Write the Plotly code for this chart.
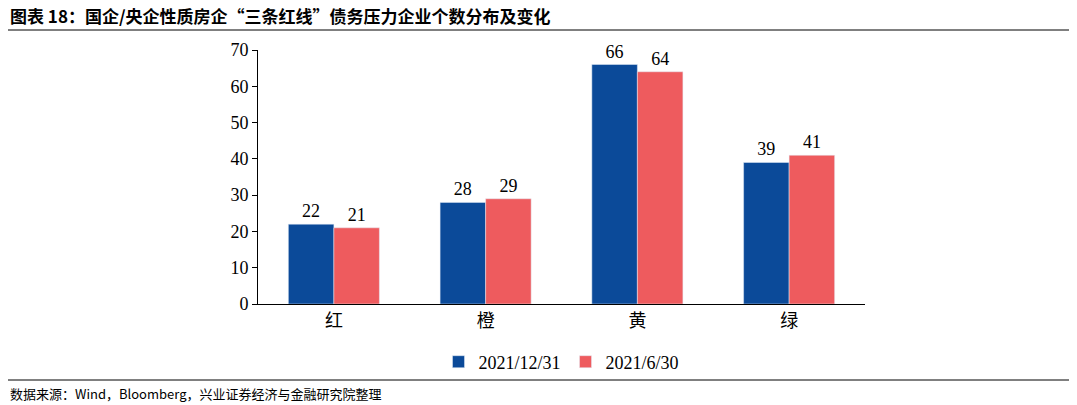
import plotly.graph_objects as go

categories = ["红", "橙", "黄", "绿"]
s1_name = "2021/12/31"
s1 = [22, 28, 66, 39]
s2_name = "2021/6/30"
s2 = [21, 29, 64, 41]

OFF = 8  # page body margin
W, H = 1077 - OFF, 405 - OFF
L, R, T, B = 258 - OFF, 1077 - 865, 50 - OFF, 405 - 304
font = "Liberation Serif, Noto Sans CJK SC"

fig = go.Figure()
fig.add_bar(x=categories, y=s1, name=s1_name, marker_color="#0B4A99",
            text=s1, textposition="outside", cliponaxis=False)
fig.add_bar(x=categories, y=s2, name=s2_name, marker_color="#EE5B5E",
            text=s2, textposition="outside", cliponaxis=False)

def px(x):
    return (x - OFF - L) / (W - L - R)
def py(y):
    return (H - B - (y - OFF)) / (H - T - B)

fig.update_layout(
    width=W, height=H, margin=dict(l=L, r=R, t=T, b=B),
    paper_bgcolor="white", plot_bgcolor="white",
    barmode="group", bargap=0.4, bargroupgap=0,
    font=dict(family=font, size=18, color="black"),
    showlegend=True,
    legend=dict(orientation="h", x=0.5, xanchor="center", y=py(362), yanchor="middle",
                font=dict(size=18), bgcolor="rgba(0,0,0,0)"),
    xaxis=dict(showline=True, linecolor="black", ticks="", tickfont=dict(size=18, family="Noto Sans CJK SC")),
    yaxis=dict(range=[0, 70], dtick=10, showline=True, linecolor="black", ticks="outside",
               ticklen=5, tickcolor="black", showgrid=False, zeroline=False),
    shapes=[
        dict(type="line", xref="paper", yref="paper", x0=px(8), x1=px(1070), y0=py(30), y1=py(30),
             line=dict(color="black", width=1)),
        dict(type="line", xref="paper", yref="paper", x0=px(8), x1=px(1070), y0=py(380), y1=py(380),
             line=dict(color="black", width=1)),
    ],
    annotations=[
        dict(text="<b>图表 18：国企/央企性质房企“三条红线”债务压力企业个数分布及变化</b>",
             xref="paper", yref="paper", x=px(8), y=py(15), xanchor="left", yanchor="middle",
             showarrow=False, font=dict(size=17, family="Noto Sans CJK SC")),
        dict(text="数据来源：Wind，Bloomberg，兴业证券经济与金融研究院整理",
             xref="paper", yref="paper", x=px(8), y=py(393), xanchor="left", yanchor="middle",
             showarrow=False, font=dict(size=13, family="Noto Sans CJK SC")),
    ],
)
fig.write_html("out.html")
